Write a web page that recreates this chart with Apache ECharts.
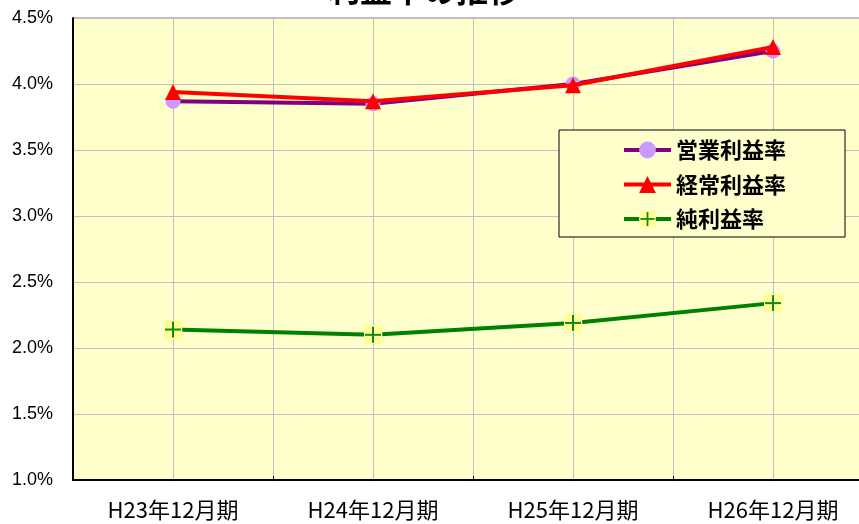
<!DOCTYPE html>
<html>
<head>
<meta charset="utf-8">
<script src="https://cdn.jsdelivr.net/npm/echarts@6/dist/echarts.min.js"></script>
<style>
html,body{margin:0;padding:0;background:#fff;overflow:hidden;width:859px;height:524px;}
#chart{width:900px;height:524px;}
</style>
</head>
<body>
<div id="chart"></div>
<script>
const titleText = '利益率の推移';
const categories = ['H23年12月期', 'H24年12月期', 'H25年12月期', 'H26年12月期'];
const seriesNames = ['営業利益率', '経常利益率', '純利益率'];
const operatingMargin = [3.87, 3.85, 4.00, 4.25];
const ordinaryMargin = [3.94, 3.87, 3.99, 4.28];
const netMargin = [2.14, 2.10, 2.19, 2.34];
const yTicks = [1.0, 1.5, 2.0, 2.5, 3.0, 3.5, 4.0, 4.5];

const plusSvg = '<svg xmlns="http://www.w3.org/2000/svg" width="19" height="19" viewBox="0 0 19 19">' +
  '<rect x="0" y="0" width="19" height="19" fill="#FFFF99"/>' +
  '<rect x="1.5" y="8.5" width="16" height="2" fill="#118811"/>' +
  '<rect x="8.5" y="1.5" width="2" height="16" fill="#118811"/></svg>';
const plusSymbol = 'image://data:image/svg+xml;charset=utf-8,' + encodeURIComponent(plusSvg);

const chart = echarts.init(document.getElementById('chart'), null, {renderer: 'canvas'});
const gridCats = [];
for (let i = 0; i < categories.length * 2; i++) gridCats.push('');

chart.setOption({
  backgroundColor: '#ffffff',
  animation: false,
  graphic: [{
    type: 'text',
    left: 328,
    top: -26,
    z: 100,
    style: {
      text: titleText,
      font: 'bold 32px "Noto Sans CJK JP", sans-serif',
      fill: '#000'
    }
  }],
  grid: {
    left: 73, right: 27, top: 18, bottom: 44,
    show: true,
    backgroundColor: '#FFFFCC',
    borderColor: '#808080',
    borderWidth: 1
  },
  legend: {
    orient: 'vertical',
    left: 559,
    top: 130,
    padding: [9, 59, 7, 63],
    itemWidth: 47,
    itemHeight: 21,
    itemGap: 12.5,
    backgroundColor: '#FFFFCC',
    borderColor: '#000000',
    borderWidth: 1,
    lineStyle: {width: 4},
    textStyle: {
      fontFamily: '"Noto Sans CJK JP", sans-serif',
      fontWeight: 'bold',
      fontSize: 22,
      lineHeight: 21,
      color: '#000'
    },
    data: seriesNames
  },
  xAxis: [{
    type: 'category',
    data: categories,
    boundaryGap: true,
    axisLine: {lineStyle: {color: '#000', width: 2}},
    axisTick: {show: true, inside: true, length: 4, lineStyle: {color: '#000'}},
    axisLabel: {
      margin: 19,
      fontSize: 22,
      fontFamily: '"Noto Sans CJK JP", sans-serif',
      color: '#000'
    },
    splitLine: {show: false}
  }, {
    type: 'category',
    data: gridCats,
    boundaryGap: true,
    position: 'bottom',
    axisLine: {show: false},
    axisTick: {show: false},
    axisLabel: {show: false},
    splitLine: {show: true, lineStyle: {color: '#C0C0C0', width: 1}}
  }],
  yAxis: {
    type: 'value',
    min: 1.0,
    max: 4.5,
    interval: 0.5,
    axisLine: {show: true, lineStyle: {color: '#000', width: 2}},
    axisTick: {show: false},
    axisLabel: {
      margin: 20,
      fontSize: 18,
      fontFamily: '"Liberation Sans", Arial, sans-serif',
      color: '#000',
      formatter: function (v) { return v.toFixed(1) + '%'; }
    },
    splitLine: {show: true, lineStyle: {color: '#C0C0C0', width: 1}}
  },
  series: [{
    name: seriesNames[0],
    type: 'line',
    data: operatingMargin,
    symbol: 'circle',
    symbolSize: 15,
    z: 3,
    lineStyle: {color: '#800080', width: 4},
    itemStyle: {color: '#CC99FF', borderWidth: 0}
  }, {
    name: seriesNames[1],
    type: 'line',
    data: ordinaryMargin,
    symbol: 'triangle',
    symbolSize: [16, 16],
    z: 4,
    lineStyle: {color: '#FF0000', width: 4},
    itemStyle: {color: '#FF0000', borderWidth: 0}
  }, {
    name: seriesNames[2],
    type: 'line',
    data: netMargin,
    symbol: plusSymbol,
    symbolSize: 19,
    z: 3,
    lineStyle: {color: '#008000', width: 4},
    itemStyle: {color: '#008000', borderWidth: 0}
  }]
});
</script>
</body>
</html>
